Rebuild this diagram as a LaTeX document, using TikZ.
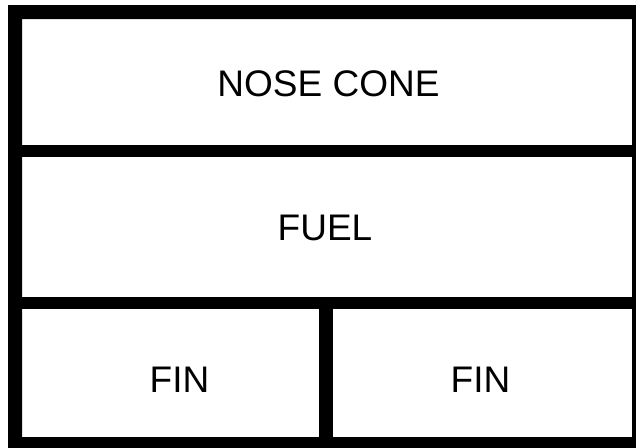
\documentclass[tikz,border=0pt]{standalone}
\usepackage{fontspec}
\setmainfont{Liberation Sans}
\begin{document}
\begin{tikzpicture}[x=1pt,y=-1pt,
  bar/.style={fill=black},
  lbl/.style={anchor=base,inner sep=0pt,font=\fontsize{37}{41}\selectfont}]
\useasboundingbox (0,0) rectangle (636,447);
\clip (0,0) rectangle (636,447);
\fill[white] (0,0) rectangle (636,447);
% outer frame
\fill[bar,even odd rule] (8,5) rectangle (660,460) (22,19) rectangle (632,437);
% dividers
\fill[bar] (22,145) rectangle (632,157);
\fill[bar] (22,297) rectangle (632,309);
\fill[bar] (319,309) rectangle (333,437);
% labels
\node[lbl] (nose) at (328.5,96) {NOSE CONE};
\node[lbl] (fuel) at (325,240) {FUEL};
\node[lbl] (finl) at (179.5,392) {FIN};
\node[lbl] (finr) at (480.5,392) {FIN};
\end{tikzpicture}
\end{document}
